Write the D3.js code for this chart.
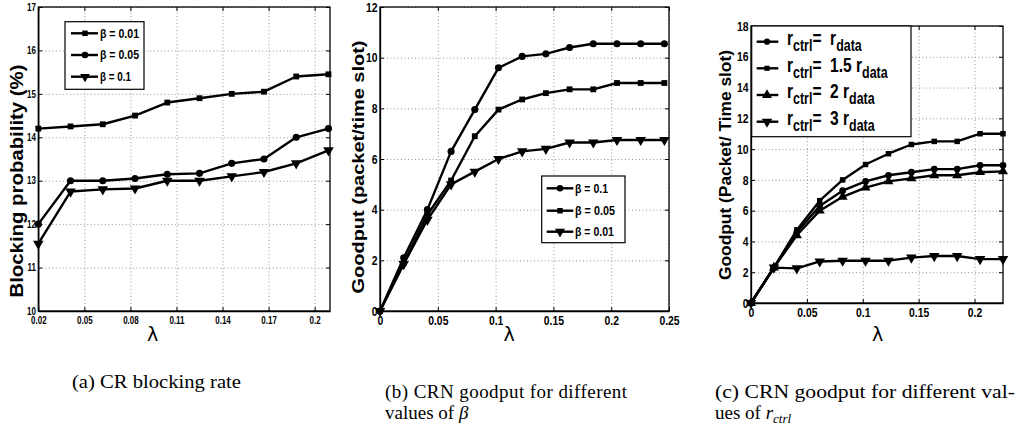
<!DOCTYPE html>
<html><head><meta charset="utf-8">
<script src="https://cdn.jsdelivr.net/npm/d3@7"></script>
<style>
body{margin:0;background:#fff;}
svg{display:block;}
</style></head><body>
<svg id="chart" width="1019" height="428"></svg>
<script>
// ---------- data ----------
const lambdaA = [0.02,0.041,0.062,0.083,0.104,0.125,0.146,0.167,0.188,0.209];
const blockBeta001 = [14.2,14.25,14.3,14.5,14.8,14.9,15.0,15.05,15.4,15.45];
const blockBeta005 = [12.0,13.0,13.0,13.05,13.15,13.17,13.4,13.5,14.0,14.2];
const blockBeta01  = [11.55,12.75,12.8,12.82,13.0,13.0,13.1,13.2,13.4,13.7];

const lambdaB = [0,0.0205,0.041,0.0615,0.082,0.1025,0.123,0.1435,0.164,0.1845,0.205,0.2255,0.246];
const goodBeta01  = [0,2.1,4.0,6.3,7.95,9.6,10.05,10.15,10.4,10.55,10.55,10.55,10.55];
const goodBeta005 = [0,1.9,3.8,5.15,6.9,7.95,8.35,8.6,8.75,8.75,9.0,9.0,9.0];
const goodBeta001 = [0,1.85,3.6,5.0,5.5,6.0,6.3,6.4,6.65,6.65,6.75,6.75,6.75];

const lambdaC = [0,0.0205,0.041,0.0615,0.082,0.1025,0.123,0.1435,0.164,0.1845,0.205,0.2255];
const goodR1  = [0,2.3,4.6,6.3,7.3,7.9,8.3,8.5,8.7,8.7,8.95,8.95];
const goodR15 = [0,2.3,4.75,6.65,8.0,9.0,9.7,10.3,10.5,10.5,11.0,11.0];
const goodR2  = [0,2.3,4.4,6.0,6.9,7.5,7.9,8.1,8.3,8.3,8.5,8.55];
const goodR3  = [0,2.3,2.25,2.7,2.75,2.75,2.75,2.95,3.05,3.05,2.85,2.85];

const ticksAX = [0.02,0.05,0.08,0.11,0.14,0.17,0.2];
const labelsAX = ["0.02","0.05","0.08","0.11","0.14","0.17","0.2"];
const ticksAY = [10,11,12,13,14,15,16,17];
const ticksBX = [0,0.05,0.1,0.15,0.2,0.25];
const labelsBX = ["0","0.05","0.1","0.15","0.2","0.25"];
const ticksBY = [0,2,4,6,8,10,12];
const ticksCX = [0,0.05,0.1,0.15,0.2];
const labelsCX = ["0","0.05","0.1","0.15","0.2"];
const ticksCY = [0,2,4,6,8,10,12,14,16,18];

const legendA = ["\u03b2 = 0.01","\u03b2 = 0.05","\u03b2 = 0.1"];
const legendB = ["\u03b2 = 0.1","\u03b2 = 0.05","\u03b2 = 0.01"];
const legendC = [["r","ctrl","=\u00a0\u00a0","r","data"],["r","ctrl","=\u00a0\u00a01.5\u00a0","r","data"],["r","ctrl","=\u00a0\u00a02\u00a0","r","data"],["r","ctrl","=\u00a0\u00a03\u00a0","r","data"]];

// ---------- drawing ----------
const svg = d3.select("#chart");
const NARROW = "'Liberation Sans',Arial,sans-serif";
const SANS = "'Liberation Sans',Arial,sans-serif";
const SERIF = "'Liberation Serif','Times New Roman',serif";
const SQX = 0.8; // horizontal squeeze emulating a condensed face

function marker(kind, size){
  if(kind==="square") return d3.symbol(d3.symbolSquare, size)();
  if(kind==="circle") return d3.symbol(d3.symbolCircle, size)();
  return d3.symbol(d3.symbolTriangle, size)();
}
function markerRot(kind){ return kind==="tridown" ? " rotate(180)" : ""; }

function panel(cfg){
  const g = svg.append("g");
  const x = d3.scaleLinear().domain(cfg.xdom).range([cfg.left, cfg.right]);
  const y = d3.scaleLinear().domain(cfg.ydom).range([cfg.bottom, cfg.top]);
  const H = cfg.bottom - cfg.top, W = cfg.right - cfg.left;
  const gridStyle = s=>{s.select(".domain").remove(); s.selectAll("line").attr("stroke","#8a8a8a").attr("stroke-dasharray","1,2.5").attr("stroke-width",0.9);};
  g.append("g").attr("transform",`translate(0,${cfg.bottom})`)
    .call(d3.axisBottom(x).tickValues(cfg.xt).tickSize(-H).tickFormat("")).call(gridStyle);
  g.append("g").attr("transform",`translate(${cfg.left},0)`)
    .call(d3.axisLeft(y).tickValues(cfg.yt).tickSize(-W).tickFormat("")).call(gridStyle);
  g.append("rect").attr("x",cfg.left).attr("y",cfg.top).attr("width",W).attr("height",H)
    .attr("fill","none").attr("stroke","#000").attr("stroke-width",1.3);
  const tl = 4;
  const ax = g.append("g").attr("transform",`translate(0,${cfg.bottom})`)
    .call(d3.axisBottom(x).tickValues(cfg.xt).tickSizeInner(-tl).tickSizeOuter(0).tickPadding(cfg.xpad)
      .tickFormat((d,i)=>cfg.xl[i]));
  ax.select(".domain").attr("stroke-width",1.3);
  ax.selectAll("text").attr("font-family",NARROW).attr("font-weight","bold").attr("font-size",cfg.tfs).attr("fill","#000")
    .attr("transform",`scale(${SQX},1)`);
  const ay = g.append("g").attr("transform",`translate(${cfg.left},0)`)
    .call(d3.axisLeft(y).tickValues(cfg.yt).tickSizeInner(-tl).tickSizeOuter(0).tickPadding(3).tickFormat(d3.format("d")));
  ay.select(".domain").attr("stroke-width",1.3);
  ay.selectAll("text").attr("font-family",NARROW).attr("font-weight","bold").attr("font-size",cfg.tfs).attr("fill","#000")
    .attr("transform",`scale(${SQX},1)`);
  g.append("g").attr("transform",`translate(0,${cfg.top})`)
    .call(d3.axisTop(x).tickValues(cfg.xt).tickSize(-tl).tickFormat("")).select(".domain").remove();
  g.append("g").attr("transform",`translate(${cfg.right},0)`)
    .call(d3.axisRight(y).tickValues(cfg.yt).tickSize(-tl).tickFormat("")).select(".domain").remove();
  const line = d3.line().x(d=>x(d[0])).y(d=>y(d[1]));
  cfg.series.forEach(s=>{
    const pts = cfg.xs.map((v,i)=>[v,s.values[i]]);
    g.append("path").datum(pts).attr("d",line).attr("fill","none").attr("stroke","#000").attr("stroke-width",2.4).attr("stroke-linejoin","round");
    g.selectAll(null).data(pts).enter().append("path")
      .attr("d",marker(s.kind,s.size))
      .attr("transform",d=>`translate(${x(d[0])},${y(d[1])})${markerRot(s.kind)}`)
      .attr("fill","#000");
  });
  g.append("text").attr("transform",`translate(${cfg.ylx},${cfg.yly}) rotate(-90)`)
    .attr("text-anchor","middle").attr("font-family",SANS).attr("font-weight","bold")
    .attr("font-size",cfg.ylfs).attr("textLength",cfg.yllen).attr("lengthAdjust","spacingAndGlyphs")
    .text(cfg.ylabel);
  g.append("text").attr("x",cfg.lamx).attr("y",341).attr("text-anchor","middle")
    .attr("font-family","'DejaVu Sans',sans-serif").attr("font-size",19).text("\u03bb");
  return {g,x,y};
}

panel({left:38.3,right:330,top:7,bottom:311,xdom:[0.02,0.21],ydom:[10,17],
  xt:ticksAX,xl:labelsAX,yt:ticksAY,tfs:10,xpad:6,xs:lambdaA,
  series:[{values:blockBeta001,kind:"square",size:34},{values:blockBeta005,kind:"circle",size:40},{values:blockBeta01,kind:"tridown",size:48}],
  ylabel:"Blocking probability (%)",ylx:23,yly:181,ylfs:18,yllen:233,lamx:152.5});
panel({left:380,right:669,top:7,bottom:311,xdom:[0,0.25],ydom:[0,12],
  xt:ticksBX,xl:labelsBX,yt:ticksBY,tfs:13,xpad:5,xs:lambdaB,
  series:[{values:goodBeta01,kind:"circle",size:40},{values:goodBeta005,kind:"square",size:34},{values:goodBeta001,kind:"tridown",size:48}],
  ylabel:"Goodput (packet/time slot)",ylx:364,yly:167,ylfs:17,yllen:253,lamx:509});
panel({left:751,right:1003,top:26,bottom:303,xdom:[0,0.2255],ydom:[0,18],
  xt:ticksCX,xl:labelsCX,yt:ticksCY,tfs:13,xpad:5,xs:lambdaC,
  series:[{values:goodR1,kind:"circle",size:36},{values:goodR15,kind:"square",size:30},{values:goodR2,kind:"tri",size:44},{values:goodR3,kind:"tridown",size:48}],
  ylabel:"Goodput (Packet/ Time slot)",ylx:731,yly:165,ylfs:16,yllen:230,lamx:877.5});

function legend(box, ys, kinds, sizes, lx1, lx2, mx, tx, texts, fs, widths){
  const g = svg.append("g");
  g.append("rect").attr("x",box[0]).attr("y",box[1]).attr("width",box[2]-box[0]).attr("height",box[3]-box[1])
    .attr("fill","#fff").attr("stroke","#000").attr("stroke-width",1.2);
  ys.forEach((yy,i)=>{
    g.append("line").attr("x1",lx1).attr("x2",lx2).attr("y1",yy).attr("y2",yy).attr("stroke","#000").attr("stroke-width",2.4);
    g.append("path").attr("d",marker(kinds[i],sizes[i])).attr("transform",`translate(${mx},${yy})${markerRot(kinds[i])}`).attr("fill","#000");
    const item = texts[i];
    if(typeof item === "string"){
      g.append("text").attr("x",tx).attr("y",yy+fs*0.36).attr("font-family",NARROW).attr("font-weight","bold")
        .attr("font-size",fs).attr("textLength",widths[i]).attr("lengthAdjust","spacingAndGlyphs").text(item);
    } else {
      const t = g.append("g").attr("transform",`translate(${tx},${yy+fs*0.16}) scale(0.74,1)`)
        .append("text").attr("font-family",NARROW).attr("font-weight","bold").attr("font-size",fs);
      t.append("tspan").text(item[0]);
      t.append("tspan").attr("dy",6).attr("font-size",fs*0.8).text(item[1]);
      t.append("tspan").attr("dy",-6).text(item[2]);
      t.append("tspan").text(item[3]);
      t.append("tspan").attr("dy",6).attr("font-size",fs*0.8).text(item[4]);
    }
  });
}
legend([65,21.7,144,89.3],[33.3,55,76.7],["square","circle","tridown"],[30,34,40],71,98,85,100,legendA,12,[39,39,31]);
legend([541.7,176,625,242.7],[188.3,210.7,231.7],["circle","square","tridown"],[34,30,44],546.7,573.3,560,575,legendB,12.5,[33,40,39]);
legend([751.7,26,911,136.7],[41.7,68.3,95,121.7],["circle","square","tri","tridown"],[30,26,44,48],756.7,778.3,767,787,legendC,21);

const cap = svg.append("g").attr("font-family",SERIF).attr("font-size",19).attr("fill","#000");
cap.append("text").attr("x",72).attr("y",388).attr("textLength",169).attr("lengthAdjust","spacingAndGlyphs").text("(a) CR blocking rate");
cap.append("text").attr("x",385).attr("y",398).attr("textLength",242).attr("lengthAdjust","spacing").text("(b) CRN goodput for different");
const b2 = cap.append("text").attr("x",385).attr("y",419);
b2.append("tspan").text("values of ");
b2.append("tspan").attr("font-style","italic").text("\u03b2");
cap.append("text").attr("x",715).attr("y",398).attr("textLength",300).attr("lengthAdjust","spacingAndGlyphs").text("(c) CRN goodput for different val-");
const c2 = cap.append("text").attr("x",715).attr("y",419);
c2.append("tspan").text("ues of ");
c2.append("tspan").attr("font-style","italic").text("r");
c2.append("tspan").attr("font-style","italic").attr("font-size",13).attr("dy",4).text("ctrl");
</script>
</body></html>
